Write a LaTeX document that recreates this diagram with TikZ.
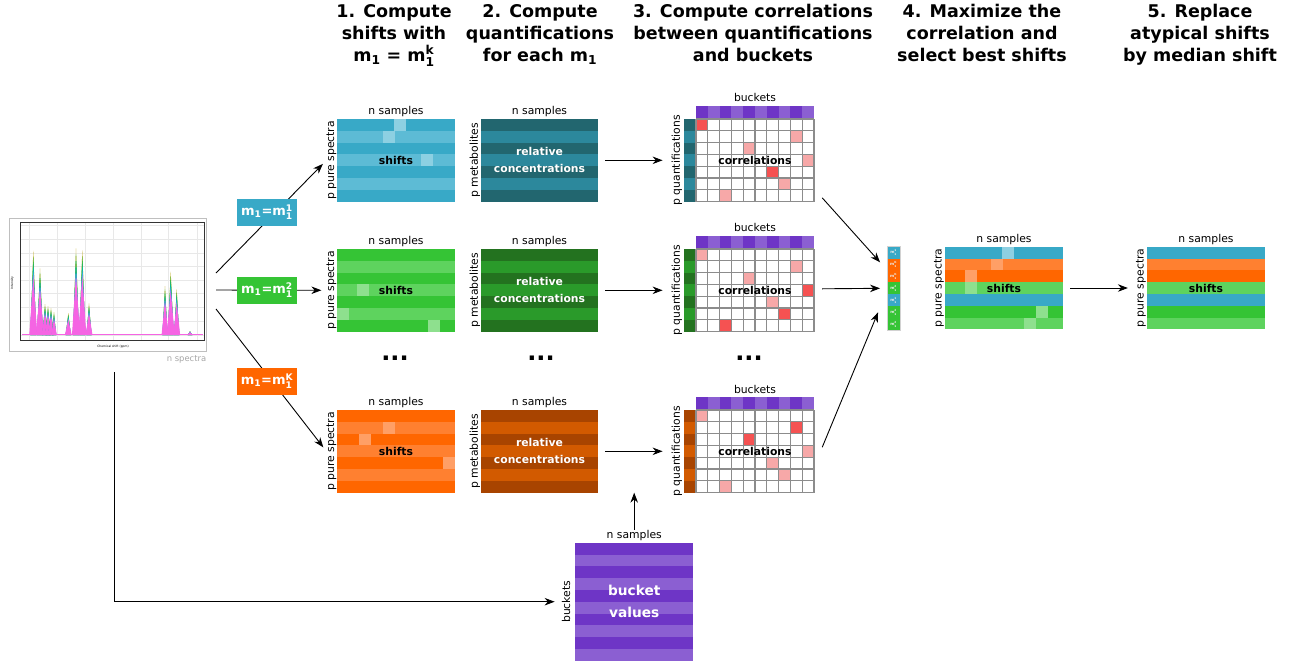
\documentclass[tikz,border=0pt]{standalone}
\usepackage{fontspec}
\usepackage{amsmath}
\setmainfont{DejaVu Sans}
\usetikzlibrary{arrows.meta, positioning}

\definecolor{blueA}{HTML}{38A9C7}
\definecolor{blueB}{HTML}{5DBBD5}
\definecolor{blueC}{HTML}{8DD0E2}
\definecolor{tealA}{HTML}{22666F}
\definecolor{tealB}{HTML}{2C889C}
\definecolor{greenA}{HTML}{35C435}
\definecolor{greenB}{HTML}{5ED35E}
\definecolor{greenC}{HTML}{8EE08E}
\definecolor{dgreenA}{HTML}{23721F}
\definecolor{dgreenB}{HTML}{2A9A2A}
\definecolor{orangeA}{HTML}{FF6600}
\definecolor{orangeB}{HTML}{FF8030}
\definecolor{orangeC}{HTML}{FF9F66}
\definecolor{dorangeA}{HTML}{A84400}
\definecolor{dorangeB}{HTML}{D25A00}
\definecolor{purpA}{HTML}{6E35C6}
\definecolor{purpB}{HTML}{8B5FD2}
\definecolor{corrhi}{HTML}{F55252}
\definecolor{corrlo}{HTML}{F7A8A8}
\definecolor{gridgray}{HTML}{8C8C8C}
\definecolor{specgold}{HTML}{B79F00}
\definecolor{specgreen}{HTML}{00BA38}
\definecolor{speccyan}{HTML}{00BFC4}
\definecolor{specblue}{HTML}{619CFF}
\definecolor{specpink}{HTML}{F564E3}

\tikzset{
  lbl/.style={font=\fontsize{10.8}{12}\selectfont, inner sep=0pt},
  vlbl/.style={lbl, rotate=90},
  inlbl/.style={font=\fontsize{10.8}{17}\selectfont\bfseries, align=center, inner sep=0pt},
  head/.style={font=\fontsize{17.5}{22}\selectfont\bfseries, align=center, inner sep=0pt, anchor=north},
  mbox/.style={fill=#1, text=white, font=\fontsize{13}{13}\selectfont\bfseries,
    minimum width=60pt, minimum height=27pt, inner sep=0pt},
  mat/.style={minimum width=118pt, minimum height=82.6pt, inner sep=0pt},
  arr/.style={line width=0.9pt, -{Stealth[length=10pt,width=7.5pt]}},
  gridline/.style={gridgray, line width=1.3pt},
  dots/.style={font=\fontsize{24}{24}\selectfont\bfseries, inner sep=0pt}
}

\newcommand{\mone}{m$_{\text{1}}$}
\newcommand{\mi}[1]{m$_{\text{1}}^{\text{#1}}$}

% rows of a matrix, top to bottom
\newcommand{\stripes}[4]{\foreach \fc [count=\i from 0] in {#4}
  \fill[\fc] (#1,{#2+\i*11.8}) rectangle ++(#3,11.8);}
% one lighter cell
\newcommand{\hcell}[3]{\fill[#3] (#1,{#2}) rectangle ++(11.8,11.8);}
% correlation grid: top y, quantification colours, coloured cells
\newcommand{\corrgrid}[4]{%
  \foreach \fc [count=\k from 0] in {purpA,purpB,purpA,purpB,purpA,purpB,purpA,purpB,purpA,purpB}
    \fill[\fc] ({696+\k*11.8},{#1-12.6}) rectangle ++(11.8,12.6);
  \stripes{684}{#1}{12}{#2,#3,#2,#3,#2,#3,#2}
  \fill[white] (696,#1) rectangle ++(118,82.6);
  \foreach \cx/\ry/\hcol in {#4}
    \fill[\hcol] ({696+\cx*11.8},{#1+\ry*11.8}) rectangle ++(11.8,11.8);
  \foreach \k in {0,...,10} \draw[gridline] ({696+\k*11.8},#1) -- ++(0,82.6);
  \foreach \k in {0,...,7} \draw[gridline] (696,{#1+\k*11.8}) -- ++(118,0);}
% one peak of the spectra, one colour per layer
\newcommand{\peak}[3]{\foreach \fr/\pc/\wd in {1/specgold/.8,.93/specgreen/.85,.85/speccyan/.9,.76/specblue/.95,.7/specpink/1.15}
  \fill[\pc] ({#1-#3*\wd},335) -- ({#1},{335-\fr*(335-#2)}) -- ({#1+#3*\wd},335) -- cycle;}

\begin{document}
\begin{tikzpicture}[x=1pt, y=-1pt]
\useasboundingbox (0,0) rectangle (1293,662);

% step titles
\node[head] (h1) at (394,4) {1. Compute\\shifts with\\\mone{} = \mi{k}};
\node[head] (h2) at (540,4) {2. Compute\\quantifications\\for each \mone};
\node[head] (h3) at (753,4) {3. Compute correlations\\between quantifications\\and buckets};
\node[head] (h4) at (982,4) {4. Maximize the\\correlation and\\select best shifts};
\node[head] (h5) at (1200,4) {5. Replace\\atypical shifts\\by median shift};

% spectra
\node[draw=gray!50, line width=0.9pt, minimum width=196.7pt, minimum height=133.7pt, inner sep=0pt] (spec) at (107.6,285) {};
\fill[white] (20.7,222.7) rectangle (204,340);
\foreach \gx in {29,57,85,113,141,168,197} \draw[gray!18, line width=0.6pt] (\gx,222.7) -- (\gx,340);
\foreach \gy in {225.7,239.5,253.3,266.7,280,293.6,307.3,321,335} \draw[gray!18, line width=0.6pt] (20.7,\gy) -- (204,\gy);
\foreach \px/\py/\pw in {33.3/250.7/3.5,40/268.3/3.5,45/304/3,48/306/3,51/308/3,54/312/2.5,68.3/313/3,
  76/248.3/3.5,82.3/250/3.5,89/303.3/3,165/286/3,170.7/271.7/3.5,176.7/289/3,190/331/2.5}
  \peak{\px}{\py}{\pw};
\draw[specpink, line width=1.8pt] (22,334.5) -- (203,334.5);
\draw[black!80, line width=0.7pt] (20.7,222.7) rectangle (204,340);
\node[font=\fontsize{3}{3}\selectfont, rotate=90, inner sep=0pt] at (12.3,283) {Intensity};
\node[font=\fontsize{3}{3}\selectfont, inner sep=0pt] at (113,346.5) {Chemical shift (ppm)};
\node[lbl, font=\fontsize{8.4}{9}\selectfont, text=gray!70, below left=3pt and 0pt of spec.south east] (nsp) {n spectra};

% block 1
\stripes{337}{119}{118}{blueA,blueB,blueA,blueB,blueA,blueB,blueA}
\hcell{394}{119}{blueC} \hcell{382.7}{130.8}{blueC} \hcell{421}{154.4}{blueC}
\node[mat] (sh1) at (396,160.3) {};
\node[inlbl] at (sh1) {shifts};
\node[lbl, above=2pt of sh1] (ns1) {n samples};
\node[vlbl] (pps1) at (331.5,160.3) {p pure spectra};
\stripes{481}{119}{117}{tealA,tealB,tealA,tealB,tealA,tealB,tealA}
\node[mat, minimum width=117pt] (rc1) at (539.5,160.3) {};
\node[inlbl, text=white] at (rc1) {relative\\concentrations};
\node[lbl, above=2pt of rc1] {n samples};
\node[vlbl] (pm1) at (475,160.3) {p metabolites};
\corrgrid{119}{tealA}{tealB}{0/0/corrhi,8/1/corrlo,4/2/corrlo,9/3/corrlo,6/4/corrhi,7/5/corrlo,2/6/corrlo}
\node[mat] (cg1) at (755,160.3) {};
\node[inlbl] at (cg1) {correlations};
\node[lbl] at (755,97) {buckets};
\node[vlbl] (pq1) at (677,160.3) {p quantifications};

% block 2
\stripes{337}{249}{118}{greenA,greenB,greenA,greenB,greenA,greenB,greenA}
\hcell{356.7}{284.4}{greenC} \hcell{337.3}{308}{greenC} \hcell{428.3}{319.8}{greenC}
\node[mat] (sh2) at (396,290.3) {};
\node[inlbl] at (sh2) {shifts};
\node[lbl, above=2pt of sh2] (ns2) {n samples};
\node[vlbl] (pps2) at (331.5,290.3) {p pure spectra};
\stripes{481}{249}{117}{dgreenA,dgreenB,dgreenA,dgreenB,dgreenA,dgreenB,dgreenA}
\node[mat, minimum width=117pt] (rc2) at (539.5,290.3) {};
\node[inlbl, text=white] at (rc2) {relative\\concentrations};
\node[lbl, above=2pt of rc2] {n samples};
\node[vlbl] (pm2) at (475,290.3) {p metabolites};
\corrgrid{249}{dgreenA}{dgreenB}{0/0/corrlo,8/1/corrlo,4/2/corrlo,9/3/corrhi,6/4/corrlo,7/5/corrhi,2/6/corrhi}
\node[mat] (cg2) at (755,290.3) {};
\node[inlbl] at (cg2) {correlations};
\node[lbl] at (755,227) {buckets};
\node[vlbl] (pq2) at (677,290.3) {p quantifications};

% block 3
\stripes{337}{410}{118}{orangeA,orangeB,orangeA,orangeB,orangeA,orangeB,orangeA}
\hcell{382.7}{421.8}{orangeC} \hcell{359}{433.6}{orangeC} \hcell{443.3}{457.2}{orangeC}
\node[mat] (sh3) at (396,451.3) {};
\node[inlbl] at (sh3) {shifts};
\node[lbl, above=2pt of sh3] (ns3) {n samples};
\node[vlbl] (pps3) at (331.5,451.3) {p pure spectra};
\stripes{481}{410}{117}{dorangeA,dorangeB,dorangeA,dorangeB,dorangeA,dorangeB,dorangeA}
\node[mat, minimum width=117pt] (rc3) at (539.5,451.3) {};
\node[inlbl, text=white] at (rc3) {relative\\concentrations};
\node[lbl, above=2pt of rc3] {n samples};
\node[vlbl] (pm3) at (475,451.3) {p metabolites};
\corrgrid{410}{dorangeA}{dorangeB}{0/0/corrlo,8/1/corrhi,4/2/corrhi,9/3/corrlo,6/4/corrlo,7/5/corrlo,2/6/corrlo}
\node[mat] (cg3) at (755,451.3) {};
\node[inlbl] at (cg3) {correlations};
\node[lbl] at (755,389) {buckets};
\node[vlbl] (pq3) at (677,451.3) {p quantifications};

\node[dots] at (395,358) {...};
\node[dots] at (541,358) {...};
\node[dots] at (749,358) {...};

% spectra to shifts, through the m1 boxes
\coordinate (o1) at (216,273);
\coordinate (o2) at (216,290);
\coordinate (o3) at (216,309);
\draw[arr, shorten >=5pt] (o1) -- (pps1.north);
\draw[arr, shorten >=5pt] (o2) -- (pps2.north);
\draw[arr, shorten >=5pt] (o3) -- (pps3.north);
\node[mbox=blueA] (mb1) at (267,212) {\mone=\mi{1}};
\node[mbox=greenA] (mb2) at (267,290) {\mone=\mi{2}};
\node[mbox=orangeA] (mb3) at (267,381) {\mone=\mi{K}};

\draw[arr, shorten <=7pt, shorten >=9pt] (rc1.east) -- (pq1.north);
\draw[arr, shorten <=7pt, shorten >=9pt] (rc2.east) -- (pq2.north);
\draw[arr, shorten <=7pt, shorten >=9pt] (rc3.east) -- (pq3.north);

% bucket values
\stripes{575}{542.7}{118.3}{purpA,purpB,purpA,purpB,purpA,purpB,purpA,purpB,purpA,purpB}
\node[mat, minimum height=118pt] (bv) at (634.2,601.7) {};
\node[inlbl, text=white, font=\fontsize{13.7}{21.7}\selectfont\bfseries] at (bv) {bucket\\values};
\node[lbl, above=2pt of bv] (nsB) {n samples};
\node[vlbl] (bkl) at (566,601.7) {buckets};
\draw[arr] (nsB.north) -- ++(0,-37);
\draw[arr, shorten >=7pt] ([xshift=6.5pt,yshift=-20pt]spec.south) |- (bkl.north);

% best m1 for each pure spectrum
\node[inner sep=0pt, minimum width=12.7pt, minimum height=83.3pt] (col) at (893.6,288.3) {};
\foreach \fc/\kk [count=\i from 0] in {blueA/1,orangeA/K,orangeA/K,greenA/2,blueA/1,greenA/2,greenA/2}{
  \fill[\fc] (887.3,{246.7+\i*11.9}) rectangle ++(12.7,11.9);
  \node[font=\fontsize{4}{4}\selectfont\bfseries, text=white!85!gray, inner sep=0pt] at (893.6,{252.6+\i*11.9}) {\mi{\kk}};
}
\draw[gray!35, line width=1pt] (col.north west) rectangle (col.south east);
\draw[arr] ([shift={(8pt,4pt)}]cg1.south east) -- ([shift={(-7pt,26pt)}]col.west);
\draw[arr] ([shift={(8pt,1.5pt)}]cg2.east) -- ([xshift=-7pt]col.west);
\draw[arr] ([shift={(8pt,4pt)}]cg3.east) -- ([shift={(-9pt,-24pt)}]col.west);

% step 4
\stripes{945}{246.7}{118}{blueA,orangeB,orangeA,greenB,blueA,greenA,greenB}
\hcell{1001.7}{246.7}{blueC} \hcell{990.7}{258.5}{orangeC} \hcell{965}{270.3}{orangeC}
\hcell{965}{282.1}{greenC} \hcell{1036}{305.7}{greenC} \hcell{1024}{317.5}{greenC}
\node[mat] (sh4) at (1004,288) {};
\node[inlbl] at (sh4) {shifts};
\node[lbl, above=2pt of sh4] {n samples};
\node[vlbl] (pps4) at (939,288) {p pure spectra};

% step 5
\stripes{1147}{246.7}{118}{blueA,orangeB,orangeA,greenB,blueA,greenA,greenB}
\node[mat] (sh5) at (1206,288) {};
\node[inlbl] at (sh5) {shifts};
\node[lbl, above=2pt of sh5] {n samples};
\node[vlbl] (pps5) at (1141,288) {p pure spectra};
\draw[arr, shorten <=7pt, shorten >=8pt] (sh4.east) -- (pps5.north);
\end{tikzpicture}
\end{document}
